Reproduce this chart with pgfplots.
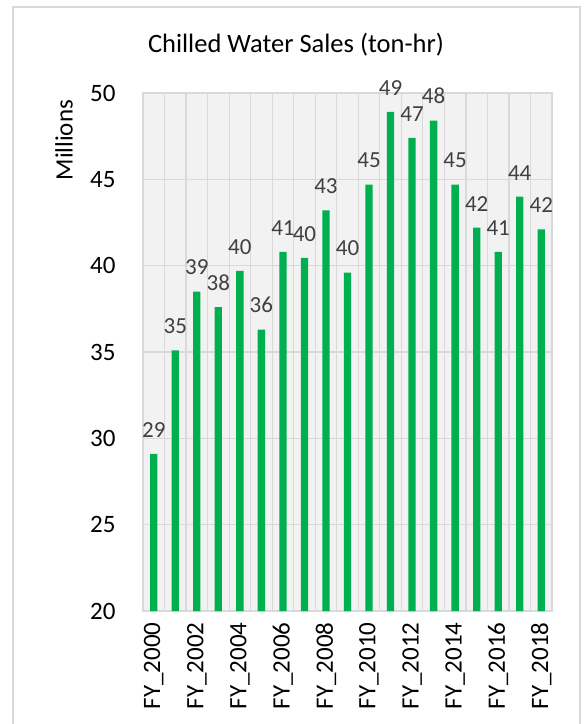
\documentclass[border=0pt]{standalone}
\usepackage{fontspec}
\setmainfont{Carlito}
\usepackage{pgfplots}
\pgfplotsset{compat=1.18}

\definecolor{bargreen}{HTML}{00B050}
\definecolor{gridgray}{HTML}{D9D9D9}
\definecolor{bggray}{HTML}{F2F2F2}
\definecolor{labelgray}{HTML}{404040}

\begin{document}
\begin{tikzpicture}[x=1bp,y=1bp]
\useasboundingbox (0,0) rectangle (584,-724);
% chart frame
\draw[gridgray, line width=1.2bp] (13,-724) -- (13,-7) -- (580,-7) -- (580,-724);
% chart title
\node[font=\fontsize{26.5bp}{30bp}\selectfont, text=black] at (296,-45) {Chilled Water Sales (ton-hr)};
\begin{axis}[
  at={(143bp,-611bp)}, anchor=south west,
  scale only axis, width=409bp, height=518bp,
  ybar, bar width=7.3bp,
  xmin=-0.5, xmax=18.5, ymin=20, ymax=50,
  ytick={20,25,...,50},
  xtick={0,2,...,18},
  xticklabels={FY\_2000,FY\_2002,FY\_2004,FY\_2006,FY\_2008,FY\_2010,FY\_2012,FY\_2014,FY\_2016,FY\_2018},
  minor xtick={-0.5,0.5,...,18.5},
  xminorgrids=true, ymajorgrids=true,
  major tick length=0pt, minor tick length=0pt,
  axis background/.style={fill=bggray},
  axis line style={gridgray, line width=1.2bp},
  grid style={gridgray, line width=1.2bp},
  minor grid style={gridgray, line width=1.2bp},
  /pgf/number format/assume math mode=true,
  tick label style={font=\fontsize{25bp}{29bp}\selectfont, text=black},
  yticklabel style={xshift=-24bp},
  xticklabel style={rotate=90, anchor=east, xshift=-8bp},
  ylabel={Millions},
  ylabel style={at={(axis description cs:0,0.909)}, anchor=center, yshift=79bp,
                font=\fontsize{25bp}{29bp}\selectfont},
  nodes near coords={\pgfmathprintnumber[fixed,precision=0]{\pgfplotspointmeta}},
  nodes near coords style={font=\fontsize{23bp}{27bp}\selectfont, text=labelgray,
                           yshift=13bp, inner xsep=0pt},
]
\addplot[fill=bargreen, draw=none] coordinates {
  (0,29.1) (1,35.1) (2,38.5) (3,37.6) (4,39.7) (5,36.3) (6,40.8)
  (7,40.45) (8,43.2) (9,39.6) (10,44.7) (11,48.9) (12,47.4) (13,48.4)
  (14,44.7) (15,42.2) (16,40.8) (17,44.0) (18,42.1)
};
\end{axis}
\end{tikzpicture}
\end{document}
